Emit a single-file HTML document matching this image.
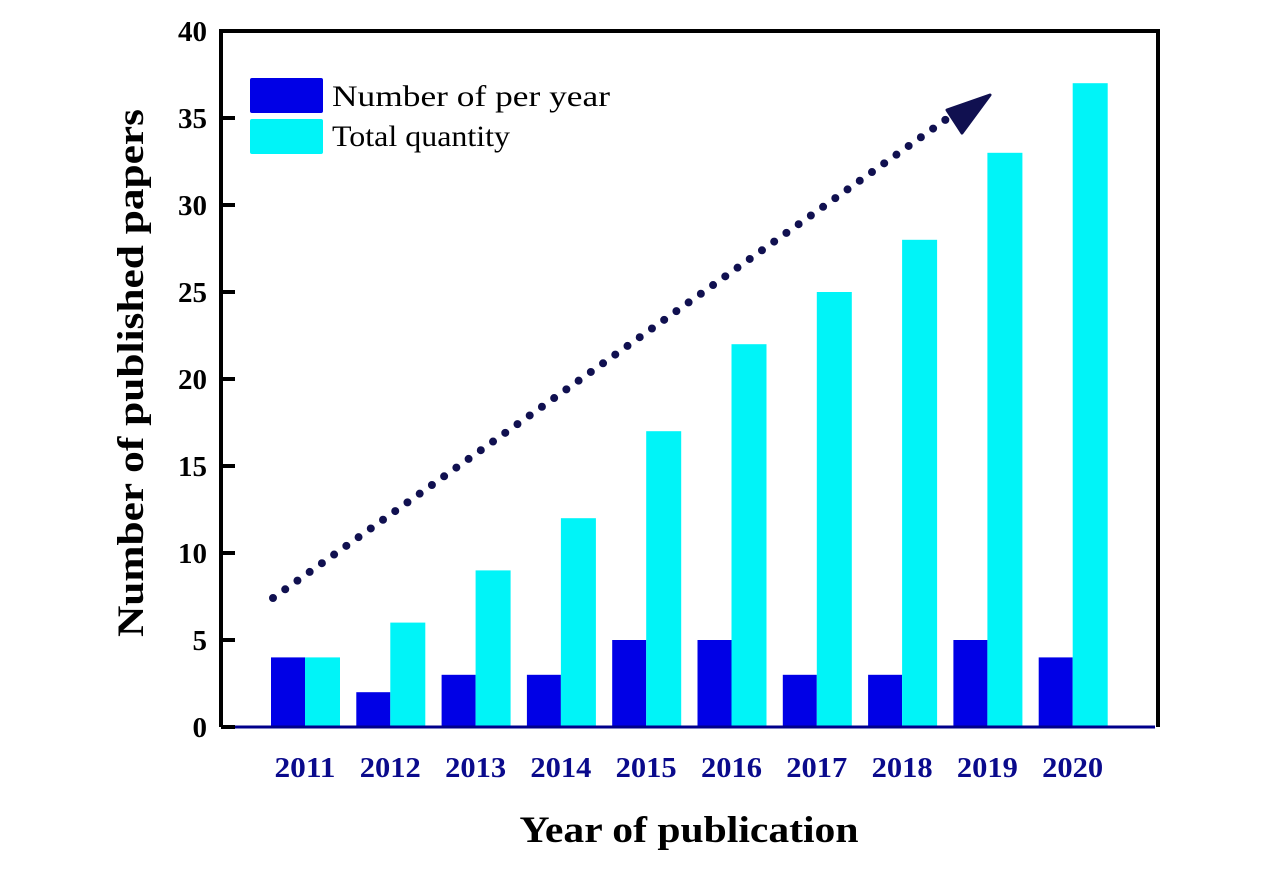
<!DOCTYPE html>
<html><head><meta charset="utf-8"><style>
body{margin:0;background:#fff;}
svg text{font-family:"Liberation Serif",serif;}
</style></head><body>
<svg id="chart" width="1276" height="866" xmlns="http://www.w3.org/2000/svg">
<g id="bars"></g>
<g id="axes"></g>
</svg>
<script>
const years=["2011","2012","2013","2014","2015","2016","2017","2018","2019","2020"];
const perYear=[4,2,3,3,5,5,3,3,5,4];
const total=[4,6,9,12,17,22,25,28,33,37];
const yTicks=[0,5,10,15,20,25,30,35,40];
const NS="http://www.w3.org/2000/svg";
const svg=document.getElementById('chart');
const X0=221,X1=1158,Y0=727,Y1=31;
const y=v=>Y0-(Y0-Y1)*v/40;
const gx=i=>305+85.3*i;
const BW=34;
function mk(tag,attrs,parent){const e=document.createElementNS(NS,tag);for(const k in attrs)e.setAttribute(k,attrs[k]);(parent||svg).appendChild(e);return e;}
const bars=document.getElementById('bars');
years.forEach((yr,i)=>{
  const a=mk('rect',{x:gx(i)-BW,y:y(perYear[i]),width:BW,height:Y0-y(perYear[i]),fill:'#0000e6'},bars);
  
  
  const b=mk('rect',{x:gx(i),y:y(total[i]),width:BW+1,height:Y0-y(total[i]),fill:'#00f4f8'},bars);
  
  
  const t=mk('text',{x:gx(i),y:777,'text-anchor':'middle','font-size':29,'font-weight':'bold',fill:'#0a0a8c',textLength:61,lengthAdjust:'spacingAndGlyphs'});
  t.textContent=yr;
  
  
});
const ax=document.getElementById('axes');
mk('line',{x1:X1-3,y1:727,x2:X0,y2:727,stroke:'#00008b','stroke-width':3},ax);
mk('path',{d:`M${X0},${Y0} L${X0},${Y1} L${X1},${Y1} L${X1},${Y0}`,fill:'none',stroke:'#000','stroke-width':4},ax);
mk('line',{x1:X0,y1:727,x2:X0+14,y2:727,stroke:'#000','stroke-width':4},ax);
yTicks.forEach(v=>{
  const l=mk('line',{x1:X0,y1:y(v),x2:X0+14,y2:y(v),stroke:'#000','stroke-width':4},ax);
  
  
  const t=mk('text',{x:207,y:y(v)+10,'text-anchor':'end','font-size':29,'font-weight':'bold',fill:'#000'});
  t.textContent=v;
  
  
});
const tl=mk('line',{x1:273,y1:598,x2:955,y2:113,stroke:'#101050','stroke-width':8,'stroke-linecap':'round','stroke-dasharray':'0 15'});


const ah=mk('path',{d:'M990,95 L947,110 L962,133 Z',fill:'#101050','stroke':'#101050','stroke-width':3,'stroke-linejoin':'round'});


const lg=mk('g',{});


mk('rect',{x:250,y:78,width:73,height:35,fill:'#0000e6',rx:2},lg);
mk('rect',{x:250,y:119,width:73,height:35,fill:'#00f4f8',rx:2},lg);
mk('text',{x:332,y:106,'font-size':30,fill:'#000',textLength:278,lengthAdjust:'spacingAndGlyphs'},lg).textContent='Number of per year';
mk('text',{x:332,y:146,'font-size':30,fill:'#000',textLength:178,lengthAdjust:'spacingAndGlyphs'},lg).textContent='Total quantity';
const xt=mk('text',{x:689,y:842,'text-anchor':'middle','font-size':37,'font-weight':'bold',fill:'#000',textLength:339,lengthAdjust:'spacingAndGlyphs'});
xt.textContent='Year of publication';


const yt=mk('text',{x:0,y:0,transform:'translate(143,373) rotate(-90)','text-anchor':'middle','font-size':37,'font-weight':'bold',fill:'#000',textLength:528,lengthAdjust:'spacingAndGlyphs'});
yt.textContent='Number of published papers';


</script>
</body></html>
